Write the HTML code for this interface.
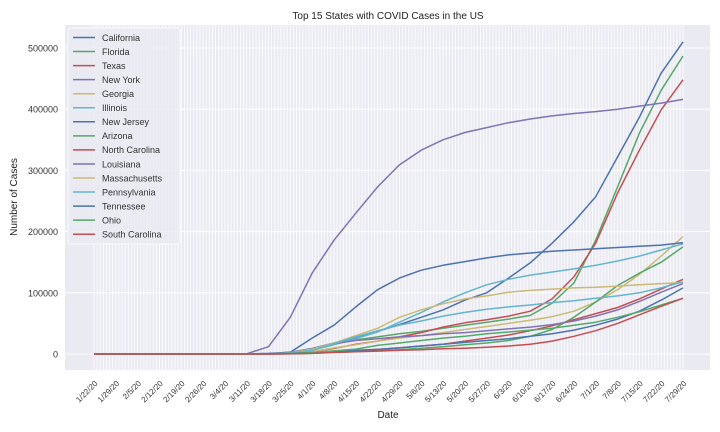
<!DOCTYPE html>
<html><head><meta charset="utf-8"><style>
body{margin:0;background:#fff;}
svg{display:block;font-family:"Liberation Sans",sans-serif;}
</style></head><body>
<svg id="chart" width="720" height="432">
<rect x="65" y="25" width="645" height="345" fill="#EAEAF2"/>
<g id="grid"></g><g id="lines"></g><g id="axes"></g><g id="legend"></g>
<text x="388" y="19" text-anchor="middle" font-size="10" fill="#222">Top 15 States with COVID Cases in the US</text>
<text x="388" y="418" text-anchor="middle" font-size="10" fill="#222">Date</text>
<text transform="translate(17,197) rotate(-90)" text-anchor="middle" font-size="10" fill="#222">Number of Cases</text>
</svg>
<script>
const tickLabels=["1/22/20","1/29/20","2/5/20","2/12/20","2/19/20","2/26/20","3/4/20","3/11/20","3/18/20","3/25/20","4/1/20","4/8/20","4/15/20","4/22/20","4/29/20","5/6/20","5/13/20","5/20/20","5/27/20","6/3/20","6/10/20","6/17/20","6/24/20","7/1/20","7/8/20","7/15/20","7/22/20","7/29/20"];
const yTicks=[0,100000,200000,300000,400000,500000];
const states=["California","Florida","Texas","New York","Georgia","Illinois","New Jersey","Arizona","North Carolina","Louisiana","Massachusetts","Pennsylvania","Tennessee","Ohio","South Carolina"];
const colors=["#4C72B0","#55A868","#C44E52","#8172B2","#CCB974","#64B5CD"];
// values in thousands at weekly dates
const california=[0,0,0,0,0,0,0,0.2,1,3,9,18,26,37,48,60,72,88,100,124,149,181,216,257,322,387,459,510];
const florida=[0,0,0,0,0,0,0,0,0.2,1.5,7,16,23,28,33,37,42,47,52,57,63,83,116,186,273,361,431,487];
const texas=[0,0,0,0,0,0,0,0,0.2,1,4,9,16,21,28,35,44,51,56,62,70,90,126,181,263,333,399,448];
const newYork=[0,0,0,0,0,0,0,0.3,12,60,132,186,230,273,309,333,350,362,370,378,384,389,393,396,400,405,410,416];
const georgia=[0,0,0,0,0,0,0,0,0.1,1,4,10,15,21,26,30,35,40,45,50,55,61,70,85,105,130,160,192];
const illinois=[0,0,0,0,0,0,0,0,0.2,1,6,15,25,36,52,68,85,100,113,122,129,134,139,145,152,160,170,180];
const newJersey=[0,0,0,0,0,0,0,0,0.5,3,26,47,77,105,124,137,145,151,157,162,165,168,170,172,174,176,178,182];
const arizona=[0,0,0,0,0,0,0,0,0,0.2,1,3,4,5.5,7,9.5,12,15,18,22,29,40,60,85,112,132,150,175];
const northCarolina=[0,0,0,0,0,0,0,0,0,0.5,1.5,3.5,5.5,7.5,10,13,16,21,26,31,38,46,56,66,76,90,106,122];
const louisiana=[0,0,0,0,0,0,0,0,0.2,2,7,17,22,25,28,30,33,35,38,41,44,48,54,62,72,86,101,115];
const massachusetts=[0,0,0,0,0,0,0,0,0.2,2,8,18,30,42,60,72,82,90,95,101,104,106,108,109,111,113,115,117];
const pennsylvania=[0,0,0,0,0,0,0,0,0.2,1.5,6,17,28,38,47,54,62,68,73,77,80,84,87,91,95,100,108,118];
const tennessee=[0,0,0,0,0,0,0,0,0.1,1,2.5,4.5,6,7.5,10,13,16,19,22,25,29,33,39,47,57,70,88,108];
const ohio=[0,0,0,0,0,0,0,0,0.1,0.7,2.5,5,8,14,18,22,26,29,33,36,39,42,47,52,60,69,80,91];
const southCarolina=[0,0,0,0,0,0,0,0,0,0.3,1,2.5,3.7,4.8,6,7,8.5,9.5,11,13,16,21,29,38,50,64,78,91];
const series=[california,florida,texas,newYork,georgia,illinois,newJersey,arizona,northCarolina,louisiana,massachusetts,pennsylvania,tennessee,ohio,southCarolina];

const NS="http://www.w3.org/2000/svg";
const X0=94,X1=683,Y0=354,YS=306/500000;
const nDays=189;
function xDay(d){return X0+(X1-X0)*d/nDays;}
function xWeek(i){return xDay(i*7);}
function y(v){return Y0-v*YS;}
function mk(tag,attrs,parent){const e=document.createElementNS(NS,tag);for(const k in attrs)e.setAttribute(k,attrs[k]);parent.appendChild(e);return e;}
const grid=document.getElementById('grid'),lines=document.getElementById('lines'),axes=document.getElementById('axes'),legend=document.getElementById('legend');
for(let d=0;d<=nDays;d++){
  const l=mk('line',{x1:xDay(d),x2:xDay(d),y1:25,y2:370,stroke:'#fff','stroke-width':0.8},grid);
  
  
}
yTicks.forEach(v=>{
  const l=mk('line',{x1:65,x2:710,y1:y(v),y2:y(v),stroke:'#fff','stroke-width':1},grid);
  
  
  const t=mk('text',{x:58,y:y(v)+3.5,'text-anchor':'end','font-size':9,fill:'#333'},axes);
  t.textContent=v;
  
  
});
tickLabels.forEach((s,i)=>{
  const x=xWeek(i);
  const t=mk('text',{transform:`translate(${x+4},384) rotate(-45)`,'text-anchor':'end','font-size':8,fill:'#333'},axes);
  t.textContent=s;
  
  
});
series.forEach((vals,si)=>{
  const pts=vals.map((v,i)=>xWeek(i).toFixed(1)+','+y(v*1000).toFixed(1)).join(' ');
  const p=mk('polyline',{points:pts,fill:'none',stroke:colors[si%6],'stroke-width':1.5,'stroke-linejoin':'round'},lines);
  
  
});
const box=mk('rect',{x:68,y:28,width:112,height:216,rx:3,fill:'#EAEAF2','fill-opacity':0.85,stroke:'#fff','stroke-opacity':0.8},legend);


states.forEach((s,i)=>{
  const yy=37.5+i*14.05;
  const l=mk('line',{x1:73,x2:95,y1:yy,y2:yy,stroke:colors[i%6],'stroke-width':1.5},legend);
  
  
  const t=mk('text',{x:102,y:yy+3.3,'font-size':9,fill:'#333'},legend);
  t.textContent=s;
  
  
});
</script>
</body></html>
